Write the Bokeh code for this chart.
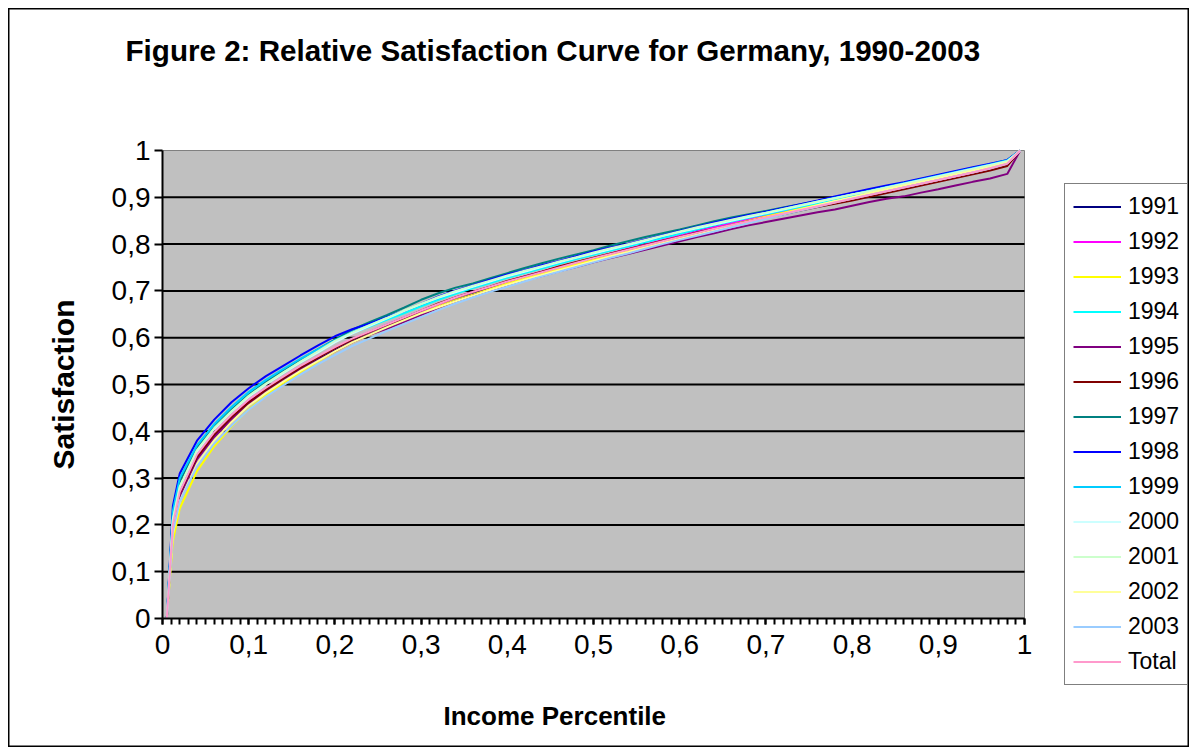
from bokeh.plotting import figure
from bokeh.models import (Range1d, FixedTicker, CustomJSTickFormatter, Legend, LegendItem, Label)
from bokeh.embed import file_html
from bokeh.resources import INLINE

percentile = [0.005, 0.012, 0.02, 0.04, 0.06, 0.08, 0.10, 0.12, 0.14, 0.16, 0.18, 0.20,
              0.22, 0.24, 0.26, 0.28, 0.30, 0.32, 0.34, 0.36, 0.38, 0.40, 0.42, 0.44,
              0.46, 0.48, 0.50, 0.52, 0.54, 0.56, 0.58, 0.60, 0.62, 0.64, 0.66, 0.68,
              0.70, 0.72, 0.74, 0.76, 0.78, 0.80, 0.82, 0.84, 0.86, 0.88, 0.90, 0.92,
              0.94, 0.96, 0.98, 0.995]

s1991 = [0.000, 0.200, 0.265, 0.345, 0.392, 0.428, 0.460, 0.487, 0.512, 0.534, 0.553, 0.573,
         0.592, 0.607, 0.622, 0.637, 0.652, 0.667, 0.680, 0.693, 0.705, 0.716, 0.727, 0.737,
         0.748, 0.758, 0.768, 0.778, 0.787, 0.797, 0.807, 0.817, 0.828, 0.838, 0.847, 0.856,
         0.864, 0.873, 0.882, 0.890, 0.899, 0.907, 0.915, 0.923, 0.930, 0.938, 0.946, 0.954,
         0.962, 0.970, 0.979, 1.000]
s1992 = [0.000, 0.205, 0.272, 0.348, 0.395, 0.430, 0.463, 0.490, 0.514, 0.537, 0.558, 0.578,
         0.597, 0.612, 0.628, 0.643, 0.657, 0.671, 0.686, 0.698, 0.709, 0.720, 0.731, 0.741,
         0.751, 0.761, 0.770, 0.780, 0.790, 0.799, 0.809, 0.818, 0.827, 0.836, 0.845, 0.853,
         0.861, 0.869, 0.877, 0.886, 0.894, 0.903, 0.912, 0.919, 0.925, 0.933, 0.941, 0.949,
         0.957, 0.966, 0.975, 1.000]
s1993 = [0.000, 0.165, 0.235, 0.315, 0.368, 0.410, 0.447, 0.477, 0.503, 0.527, 0.549, 0.570,
         0.590, 0.606, 0.621, 0.637, 0.652, 0.667, 0.680, 0.692, 0.704, 0.716, 0.727, 0.737,
         0.747, 0.757, 0.767, 0.776, 0.786, 0.795, 0.804, 0.813, 0.823, 0.832, 0.841, 0.850,
         0.859, 0.867, 0.876, 0.885, 0.894, 0.902, 0.909, 0.918, 0.927, 0.937, 0.945, 0.952,
         0.960, 0.968, 0.977, 1.000]
s1994 = [0.000, 0.225, 0.295, 0.368, 0.414, 0.450, 0.482, 0.508, 0.531, 0.553, 0.573, 0.593,
         0.610, 0.624, 0.638, 0.652, 0.667, 0.681, 0.694, 0.706, 0.717, 0.728, 0.738, 0.748,
         0.758, 0.768, 0.777, 0.786, 0.795, 0.804, 0.813, 0.822, 0.831, 0.840, 0.848, 0.856,
         0.864, 0.872, 0.880, 0.888, 0.896, 0.904, 0.912, 0.920, 0.928, 0.936, 0.944, 0.952,
         0.960, 0.969, 0.978, 1.000]
s1995 = [0.000, 0.195, 0.262, 0.340, 0.388, 0.424, 0.457, 0.484, 0.508, 0.531, 0.551, 0.571,
         0.590, 0.606, 0.619, 0.634, 0.649, 0.664, 0.678, 0.690, 0.701, 0.712, 0.722, 0.732,
         0.742, 0.751, 0.761, 0.770, 0.779, 0.788, 0.797, 0.806, 0.815, 0.823, 0.832, 0.840,
         0.847, 0.854, 0.861, 0.868, 0.874, 0.882, 0.890, 0.897, 0.902, 0.910, 0.917, 0.925,
         0.933, 0.940, 0.950, 1.000]
s1996 = [0.000, 0.200, 0.268, 0.345, 0.393, 0.430, 0.462, 0.489, 0.513, 0.536, 0.557, 0.577,
         0.596, 0.612, 0.627, 0.642, 0.658, 0.673, 0.686, 0.698, 0.709, 0.721, 0.731, 0.741,
         0.752, 0.762, 0.771, 0.780, 0.789, 0.798, 0.807, 0.816, 0.825, 0.833, 0.841, 0.849,
         0.856, 0.864, 0.872, 0.879, 0.886, 0.893, 0.901, 0.909, 0.917, 0.925, 0.933, 0.941,
         0.949, 0.957, 0.967, 1.000]
s1997 = [0.000, 0.225, 0.292, 0.365, 0.410, 0.446, 0.478, 0.505, 0.530, 0.553, 0.575, 0.596,
         0.617, 0.633, 0.648, 0.664, 0.681, 0.695, 0.707, 0.716, 0.727, 0.738, 0.749, 0.759,
         0.769, 0.778, 0.787, 0.797, 0.806, 0.815, 0.823, 0.831, 0.840, 0.849, 0.857, 0.864,
         0.871, 0.878, 0.885, 0.892, 0.899, 0.906, 0.913, 0.921, 0.929, 0.937, 0.945, 0.953,
         0.961, 0.969, 0.978, 1.000]
s1998 = [0.000, 0.240, 0.310, 0.380, 0.425, 0.462, 0.492, 0.518, 0.540, 0.562, 0.583, 0.603,
         0.618, 0.630, 0.644, 0.657, 0.672, 0.688, 0.701, 0.712, 0.724, 0.735, 0.744, 0.755,
         0.764, 0.774, 0.784, 0.793, 0.801, 0.810, 0.819, 0.828, 0.837, 0.846, 0.854, 0.862,
         0.869, 0.877, 0.885, 0.893, 0.902, 0.910, 0.918, 0.925, 0.932, 0.940, 0.948, 0.956,
         0.964, 0.972, 0.980, 1.000]
s1999 = [0.000, 0.230, 0.300, 0.370, 0.415, 0.452, 0.484, 0.510, 0.533, 0.555, 0.575, 0.594,
         0.612, 0.627, 0.642, 0.657, 0.671, 0.684, 0.697, 0.709, 0.720, 0.731, 0.741, 0.751,
         0.761, 0.771, 0.780, 0.789, 0.798, 0.807, 0.816, 0.825, 0.834, 0.843, 0.851, 0.859,
         0.867, 0.875, 0.883, 0.891, 0.899, 0.906, 0.914, 0.922, 0.930, 0.938, 0.946, 0.954,
         0.962, 0.970, 0.979, 1.000]
s2000 = [0.000, 0.210, 0.280, 0.357, 0.405, 0.442, 0.474, 0.500, 0.524, 0.547, 0.568, 0.590,
         0.609, 0.625, 0.641, 0.657, 0.672, 0.685, 0.697, 0.709, 0.720, 0.731, 0.741, 0.751,
         0.761, 0.771, 0.780, 0.789, 0.798, 0.807, 0.817, 0.826, 0.834, 0.842, 0.850, 0.858,
         0.866, 0.874, 0.882, 0.890, 0.898, 0.906, 0.913, 0.921, 0.929, 0.937, 0.945, 0.953,
         0.961, 0.969, 0.977, 1.000]
s2001 = [0.000, 0.212, 0.282, 0.360, 0.407, 0.443, 0.476, 0.502, 0.526, 0.549, 0.571, 0.593,
         0.611, 0.627, 0.642, 0.658, 0.672, 0.687, 0.700, 0.711, 0.722, 0.733, 0.743, 0.753,
         0.763, 0.772, 0.782, 0.791, 0.800, 0.809, 0.818, 0.827, 0.836, 0.844, 0.852, 0.860,
         0.867, 0.875, 0.883, 0.891, 0.898, 0.906, 0.913, 0.921, 0.928, 0.936, 0.944, 0.952,
         0.960, 0.968, 0.977, 1.000]
s2002 = [0.000, 0.180, 0.250, 0.330, 0.380, 0.420, 0.455, 0.482, 0.506, 0.529, 0.550, 0.571,
         0.590, 0.606, 0.622, 0.637, 0.652, 0.665, 0.678, 0.690, 0.702, 0.713, 0.724, 0.734,
         0.744, 0.754, 0.764, 0.774, 0.783, 0.793, 0.802, 0.811, 0.820, 0.829, 0.838, 0.847,
         0.856, 0.865, 0.874, 0.883, 0.892, 0.900, 0.909, 0.917, 0.925, 0.933, 0.941, 0.949,
         0.957, 0.965, 0.974, 1.000]
s2003 = [0.000, 0.185, 0.250, 0.325, 0.374, 0.412, 0.446, 0.474, 0.498, 0.521, 0.543, 0.563,
         0.582, 0.598, 0.614, 0.629, 0.644, 0.659, 0.673, 0.686, 0.698, 0.709, 0.720, 0.731,
         0.741, 0.751, 0.761, 0.771, 0.780, 0.790, 0.800, 0.809, 0.818, 0.827, 0.836, 0.845,
         0.854, 0.863, 0.872, 0.880, 0.889, 0.897, 0.905, 0.913, 0.921, 0.929, 0.937, 0.945,
         0.953, 0.962, 0.972, 1.000]
total = [0.000, 0.200, 0.270, 0.350, 0.398, 0.435, 0.468, 0.493, 0.517, 0.540, 0.560, 0.580,
         0.598, 0.613, 0.628, 0.643, 0.658, 0.672, 0.686, 0.698, 0.709, 0.720, 0.730, 0.740,
         0.750, 0.760, 0.770, 0.779, 0.788, 0.797, 0.806, 0.815, 0.824, 0.833, 0.841, 0.849,
         0.857, 0.865, 0.873, 0.881, 0.889, 0.897, 0.905, 0.913, 0.921, 0.929, 0.937, 0.945,
         0.953, 0.962, 0.972, 1.000]

series_names = ["1991", "1992", "1993", "1994", "1995", "1996", "1997", "1998", "1999",
                "2000", "2001", "2002", "2003", "Total"]
series_values = [s1991, s1992, s1993, s1994, s1995, s1996, s1997, s1998, s1999,
                 s2000, s2001, s2002, s2003, total]
series_colors = ["#000080", "#FF00FF", "#FFFF00", "#00FFFF", "#800080", "#800000", "#008080",
                 "#0000FF", "#00CCFF", "#CCFFFF", "#CCFFCC", "#FFFF99", "#99CCFF", "#FF99CC"]

major_ticks = [0.0, 0.1, 0.2, 0.3, 0.4, 0.5, 0.6, 0.7, 0.8, 0.9, 1.0]
grid_ticks = [0.1, 0.2, 0.3, 0.4, 0.5, 0.6, 0.7, 0.8, 0.9]
minor_x_ticks = [i / 100 for i in range(101)]

FONT = "Liberation Sans"

# layout (figure pixels): plot area 862 x 468 px, left edge at 154, top edge at 142;
# the frame covers the whole canvas so that the outer border can be the frame outline
W, H = 1181, 739
LEFT, TOP, PW, PH = 154, 142, 862, 468
x_start = -LEFT / PW
x_end = (W - LEFT) / PW
y_start = -(H - TOP - PH) / PH
y_end = 1 + TOP / PH

p = figure(width=W, height=H, output_backend="svg", toolbar_location=None,
           x_range=Range1d(x_start, x_end), y_range=Range1d(y_start, y_end),
           min_border_left=0, min_border_right=0, min_border_top=0, min_border_bottom=0)
p.styles = {"margin": "8px 0px 0px 8px"}

p.background_fill_color = "white"
p.border_fill_color = "white"
p.outline_line_color = "black"
p.outline_line_width = 2
p.title.text = ""
p.xgrid.grid_line_color = None
p.ygrid.grid_line_color = None

lo, hi = major_ticks[0], major_ticks[-1]
# grey plot area and its horizontal gridlines
p.quad(left=lo, right=hi, bottom=lo, top=hi, fill_color="#C0C0C0", line_color="#808080", line_width=1)
p.segment(x0=[lo] * len(grid_ticks), x1=[hi] * len(grid_ticks), y0=grid_ticks, y1=grid_ticks,
          line_color="black", line_width=2)

fmt = CustomJSTickFormatter(code="var s = (Math.round(tick*10)/10).toString(); return s.replace('.', ',');")

# x axis, drawn at y = 0
xa = p.xaxis[0]
xa.fixed_location = 0
xa.bounds = (lo, hi)
xa.ticker = FixedTicker(ticks=major_ticks, minor_ticks=minor_x_ticks)
xa.formatter = fmt
xa.axis_line_color = "black"
xa.axis_line_width = 2
xa.major_tick_in = 0
xa.major_tick_out = 6
xa.minor_tick_in = 0
xa.minor_tick_out = 6
xa.major_tick_line_width = 2
xa.minor_tick_line_width = 2
xa.major_tick_line_color = "black"
xa.minor_tick_line_color = "black"
xa.major_label_text_font = FONT
xa.major_label_text_font_size = "28px"
xa.major_label_text_color = "black"
xa.major_label_standoff = 10

# y axis, drawn at x = 0
ya = p.yaxis[0]
ya.fixed_location = 0
ya.bounds = (lo, hi)
ya.ticker = FixedTicker(ticks=major_ticks, minor_ticks=[])
ya.formatter = fmt
ya.axis_line_color = "black"
ya.axis_line_width = 2
ya.major_tick_in = 0
ya.major_tick_out = 8
ya.minor_tick_in = 0
ya.minor_tick_out = 0
ya.major_tick_line_width = 2
ya.major_tick_line_color = "black"
ya.major_label_text_font = FONT
ya.major_label_text_font_size = "28px"
ya.major_label_text_color = "black"
ya.major_label_standoff = 4
ya.axis_label = "Satisfaction"
ya.axis_label_text_font = FONT
ya.axis_label_text_font_style = "bold"
ya.axis_label_text_font_size = "30px"
ya.axis_label_text_color = "black"
ya.axis_label_standoff = 29

items = []
for name, vals, col in zip(series_names, series_values, series_colors):
    r = p.line(percentile, vals, line_color=col, line_width=2)
    items.append(LegendItem(label=name, renderers=[r]))

legend = Legend(items=items, location=(LEFT + 902, 62), orientation="vertical",
                border_line_color="black", border_line_width=1,
                background_fill_color="white", background_fill_alpha=1.0,
                label_text_font=FONT, label_text_font_size="23px", label_text_color="black",
                glyph_width=48, glyph_height=29, label_height=29, spacing=6,
                padding=8, margin=0, label_standoff=7)
p.add_layout(legend, "center")

# chart title
p.add_layout(Label(x=117, y=H - 42, x_units="screen", y_units="screen",
                   text="Figure 2: Relative Satisfaction Curve for Germany, 1990-2003",
                   text_font=FONT, text_font_style="bold", text_font_size="29.6px",
                   text_color="black", text_align="left", text_baseline="middle"))

# x axis label
p.add_layout(Label(x=435, y=32, x_units="screen", y_units="screen", text="Income Percentile",
                   text_font=FONT, text_font_style="bold", text_font_size="26px",
                   text_color="black", text_align="left", text_baseline="middle"))

open("out.html", "w").write(file_html(p, INLINE))
